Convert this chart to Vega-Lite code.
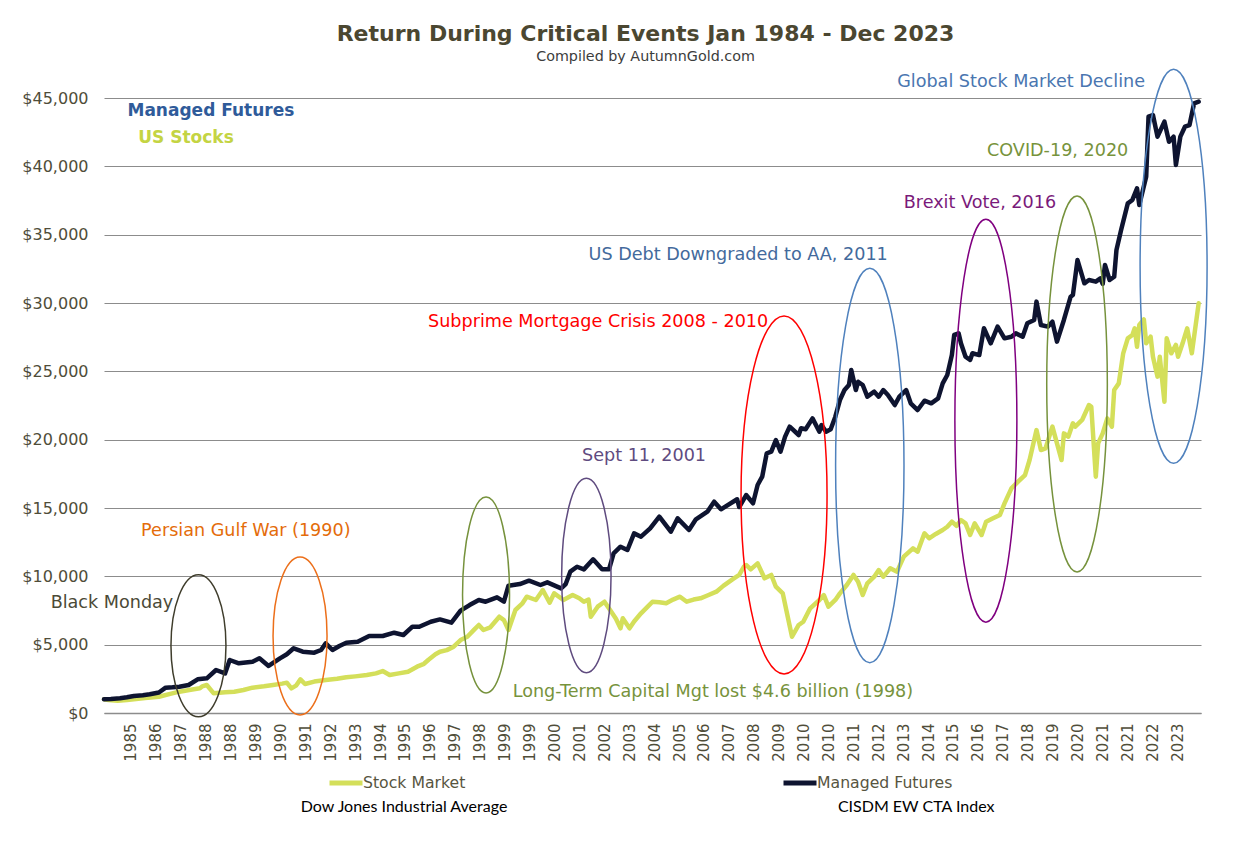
{
  "$schema": "https://vega.github.io/schema/vega-lite/v6.json",
  "width": 1097,
  "height": 615,
  "autosize": {"type": "none"},
  "padding": {"left": 104, "top": 98, "right": 59, "bottom": 138},
  "background": "white",
  "config": {"view": {"stroke": null}, "font": "DejaVu Sans", "axisX": {"labelOverlap": false}, "axisTemporal": {"labelOverlap": false}},
  "title": {
    "text": "Return During Critical Events Jan 1984 - Dec 2023",
    "subtitle": "Compiled by AutumnGold.com",
    "frame": "group",
    "anchor": "middle",
    "dx": -7,
    "offset": 1,
    "font": "DejaVu Sans",
    "fontSize": 22,
    "fontWeight": "bold",
    "color": "#4b4731",
    "subtitleFont": "DejaVu Sans",
    "subtitleFontSize": 14.3,
    "subtitleColor": "#3c3c3c",
    "subtitlePadding": 4
  },
  "datasets": {
    "series": [
      {"s":"Stock Market","d":"1984-01","v":1000},{"s":"Stock Market","d":"1984-03","v":950},{"s":"Stock Market","d":"1984-07","v":900},{"s":"Stock Market","d":"1984-11","v":950},
      {"s":"Stock Market","d":"1985-02","v":1000},{"s":"Stock Market","d":"1985-07","v":1100},{"s":"Stock Market","d":"1986-01","v":1190},{"s":"Stock Market","d":"1986-06","v":1400},
      {"s":"Stock Market","d":"1986-10","v":1560},{"s":"Stock Market","d":"1987-03","v":1700},{"s":"Stock Market","d":"1987-07","v":1805},{"s":"Stock Market","d":"1987-08","v":1950},
      {"s":"Stock Market","d":"1987-10","v":2050},{"s":"Stock Market","d":"1988-01","v":1440},{"s":"Stock Market","d":"1988-06","v":1520},{"s":"Stock Market","d":"1988-10","v":1560},
      {"s":"Stock Market","d":"1989-02","v":1680},{"s":"Stock Market","d":"1989-06","v":1853},{"s":"Stock Market","d":"1989-11","v":1950},{"s":"Stock Market","d":"1990-03","v":2049},
      {"s":"Stock Market","d":"1990-07","v":2150},{"s":"Stock Market","d":"1990-09","v":2220},{"s":"Stock Market","d":"1990-11","v":1805},{"s":"Stock Market","d":"1991-01","v":2000},
      {"s":"Stock Market","d":"1991-03","v":2463},{"s":"Stock Market","d":"1991-05","v":2122},{"s":"Stock Market","d":"1991-09","v":2300},{"s":"Stock Market","d":"1992-02","v":2415},
      {"s":"Stock Market","d":"1992-07","v":2500},{"s":"Stock Market","d":"1992-11","v":2610},{"s":"Stock Market","d":"1993-03","v":2680},{"s":"Stock Market","d":"1993-08","v":2780},
      {"s":"Stock Market","d":"1993-12","v":2900},{"s":"Stock Market","d":"1994-03","v":3073},{"s":"Stock Market","d":"1994-06","v":2780},{"s":"Stock Market","d":"1994-10","v":2900},
      {"s":"Stock Market","d":"1995-02","v":3024},{"s":"Stock Market","d":"1995-06","v":3390},{"s":"Stock Market","d":"1995-09","v":3600},{"s":"Stock Market","d":"1995-11","v":3900},
      {"s":"Stock Market","d":"1996-02","v":4300},{"s":"Stock Market","d":"1996-04","v":4485},{"s":"Stock Market","d":"1996-07","v":4600},{"s":"Stock Market","d":"1996-10","v":4850},
      {"s":"Stock Market","d":"1997-01","v":5340},{"s":"Stock Market","d":"1997-04","v":5580},{"s":"Stock Market","d":"1997-07","v":6100},{"s":"Stock Market","d":"1997-09","v":6440},
      {"s":"Stock Market","d":"1997-11","v":6073},{"s":"Stock Market","d":"1998-02","v":6270},{"s":"Stock Market","d":"1998-06","v":7046},{"s":"Stock Market","d":"1998-08","v":6800},
      {"s":"Stock Market","d":"1998-10","v":6073},{"s":"Stock Market","d":"1999-01","v":7536},{"s":"Stock Market","d":"1999-04","v":8000},{"s":"Stock Market","d":"1999-06","v":8510},
      {"s":"Stock Market","d":"1999-10","v":8268},{"s":"Stock Market","d":"2000-01","v":9000},{"s":"Stock Market","d":"2000-04","v":8070},{"s":"Stock Market","d":"2000-06","v":8755},
      {"s":"Stock Market","d":"2000-10","v":8268},{"s":"Stock Market","d":"2001-02","v":8634},{"s":"Stock Market","d":"2001-05","v":8400},{"s":"Stock Market","d":"2001-07","v":8144},
      {"s":"Stock Market","d":"2001-09","v":8300},{"s":"Stock Market","d":"2001-10","v":7046},{"s":"Stock Market","d":"2002-01","v":7780},{"s":"Stock Market","d":"2002-04","v":8144},
      {"s":"Stock Market","d":"2002-07","v":7412},{"s":"Stock Market","d":"2002-09","v":6900},{"s":"Stock Market","d":"2002-11","v":6197},{"s":"Stock Market","d":"2002-12","v":6930},
      {"s":"Stock Market","d":"2003-03","v":6197},{"s":"Stock Market","d":"2003-05","v":6700},{"s":"Stock Market","d":"2003-08","v":7295},{"s":"Stock Market","d":"2003-11","v":7800},
      {"s":"Stock Market","d":"2004-01","v":8144},{"s":"Stock Market","d":"2004-04","v":8100},{"s":"Stock Market","d":"2004-07","v":8026},{"s":"Stock Market","d":"2004-10","v":8300},
      {"s":"Stock Market","d":"2005-01","v":8510},{"s":"Stock Market","d":"2005-04","v":8144},{"s":"Stock Market","d":"2005-07","v":8300},{"s":"Stock Market","d":"2005-10","v":8390},
      {"s":"Stock Market","d":"2006-01","v":8600},{"s":"Stock Market","d":"2006-05","v":8876},{"s":"Stock Market","d":"2006-08","v":9300},{"s":"Stock Market","d":"2006-12","v":9780},
      {"s":"Stock Market","d":"2007-03","v":10100},{"s":"Stock Market","d":"2007-05","v":10700},{"s":"Stock Market","d":"2007-06","v":10830},{"s":"Stock Market","d":"2007-08","v":10510},
      {"s":"Stock Market","d":"2007-11","v":10950},{"s":"Stock Market","d":"2008-02","v":9855},{"s":"Stock Market","d":"2008-05","v":10100},{"s":"Stock Market","d":"2008-07","v":9240},
      {"s":"Stock Market","d":"2008-10","v":8755},{"s":"Stock Market","d":"2008-12","v":7170},{"s":"Stock Market","d":"2009-02","v":5580},{"s":"Stock Market","d":"2009-05","v":6440},
      {"s":"Stock Market","d":"2009-07","v":6680},{"s":"Stock Market","d":"2009-10","v":7660},{"s":"Stock Market","d":"2010-02","v":8270},{"s":"Stock Market","d":"2010-04","v":8630},
      {"s":"Stock Market","d":"2010-06","v":7780},{"s":"Stock Market","d":"2010-09","v":8270},{"s":"Stock Market","d":"2010-11","v":8755},{"s":"Stock Market","d":"2011-02","v":9365},
      {"s":"Stock Market","d":"2011-05","v":10100},{"s":"Stock Market","d":"2011-07","v":9610},{"s":"Stock Market","d":"2011-09","v":8630},{"s":"Stock Market","d":"2011-11","v":9490},
      {"s":"Stock Market","d":"2012-02","v":9975},{"s":"Stock Market","d":"2012-04","v":10460},{"s":"Stock Market","d":"2012-06","v":9975},{"s":"Stock Market","d":"2012-09","v":10590},
      {"s":"Stock Market","d":"2012-12","v":10340},{"s":"Stock Market","d":"2013-03","v":11440},{"s":"Stock Market","d":"2013-07","v":12050},{"s":"Stock Market","d":"2013-09","v":11800},
      {"s":"Stock Market","d":"2013-12","v":13150},{"s":"Stock Market","d":"2014-02","v":12780},{"s":"Stock Market","d":"2014-05","v":13100},{"s":"Stock Market","d":"2014-08","v":13390},
      {"s":"Stock Market","d":"2014-10","v":13630},{"s":"Stock Market","d":"2014-12","v":14000},{"s":"Stock Market","d":"2015-02","v":13700},{"s":"Stock Market","d":"2015-04","v":14120},
      {"s":"Stock Market","d":"2015-06","v":13880},{"s":"Stock Market","d":"2015-08","v":13025},{"s":"Stock Market","d":"2015-10","v":13880},{"s":"Stock Market","d":"2016-01","v":13025},
      {"s":"Stock Market","d":"2016-03","v":14000},{"s":"Stock Market","d":"2016-06","v":14245},{"s":"Stock Market","d":"2016-09","v":14490},{"s":"Stock Market","d":"2016-11","v":15340},
      {"s":"Stock Market","d":"2017-02","v":16440},{"s":"Stock Market","d":"2017-05","v":16925},{"s":"Stock Market","d":"2017-08","v":17410},{"s":"Stock Market","d":"2017-10","v":18510},
      {"s":"Stock Market","d":"2018-01","v":20700},{"s":"Stock Market","d":"2018-03","v":19240},{"s":"Stock Market","d":"2018-05","v":19365},{"s":"Stock Market","d":"2018-08","v":20950},
      {"s":"Stock Market","d":"2018-12","v":18510},{"s":"Stock Market","d":"2019-01","v":20460},{"s":"Stock Market","d":"2019-03","v":20220},{"s":"Stock Market","d":"2019-05","v":21200},
      {"s":"Stock Market","d":"2019-06","v":20950},{"s":"Stock Market","d":"2019-09","v":21440},{"s":"Stock Market","d":"2019-12","v":22535},{"s":"Stock Market","d":"2020-01","v":22400},
      {"s":"Stock Market","d":"2020-03","v":17290},{"s":"Stock Market","d":"2020-04","v":19730},{"s":"Stock Market","d":"2020-06","v":20460},{"s":"Stock Market","d":"2020-08","v":21560},
      {"s":"Stock Market","d":"2020-10","v":20950},{"s":"Stock Market","d":"2020-11","v":23630},{"s":"Stock Market","d":"2021-01","v":24120},{"s":"Stock Market","d":"2021-03","v":26320},
      {"s":"Stock Market","d":"2021-05","v":27415},{"s":"Stock Market","d":"2021-07","v":27660},{"s":"Stock Market","d":"2021-08","v":28150},{"s":"Stock Market","d":"2021-09","v":26800},
      {"s":"Stock Market","d":"2021-10","v":28390},{"s":"Stock Market","d":"2021-12","v":28800},{"s":"Stock Market","d":"2022-01","v":27050},{"s":"Stock Market","d":"2022-03","v":27535},
      {"s":"Stock Market","d":"2022-04","v":26070},{"s":"Stock Market","d":"2022-06","v":24610},{"s":"Stock Market","d":"2022-07","v":26070},{"s":"Stock Market","d":"2022-09","v":22780},
      {"s":"Stock Market","d":"2022-10","v":27415},{"s":"Stock Market","d":"2022-12","v":26320},{"s":"Stock Market","d":"2023-02","v":26930},{"s":"Stock Market","d":"2023-03","v":26070},
      {"s":"Stock Market","d":"2023-05","v":27050},{"s":"Stock Market","d":"2023-07","v":28150},{"s":"Stock Market","d":"2023-09","v":26320},{"s":"Stock Market","d":"2023-12","v":29980},

      {"s":"Managed Futures","d":"1984-01","v":1000},{"s":"Managed Futures","d":"1984-04","v":1020},{"s":"Managed Futures","d":"1984-08","v":1075},{"s":"Managed Futures","d":"1984-11","v":1150},
      {"s":"Managed Futures","d":"1985-02","v":1244},{"s":"Managed Futures","d":"1985-06","v":1300},{"s":"Managed Futures","d":"1985-09","v":1366},{"s":"Managed Futures","d":"1986-01","v":1500},
      {"s":"Managed Futures","d":"1986-04","v":1853},{"s":"Managed Futures","d":"1986-07","v":1880},{"s":"Managed Futures","d":"1986-10","v":1927},{"s":"Managed Futures","d":"1987-02","v":2049},
      {"s":"Managed Futures","d":"1987-06","v":2463},{"s":"Managed Futures","d":"1987-10","v":2536},{"s":"Managed Futures","d":"1988-02","v":3146},{"s":"Managed Futures","d":"1988-06","v":2900},
      {"s":"Managed Futures","d":"1988-08","v":3878},{"s":"Managed Futures","d":"1988-12","v":3634},{"s":"Managed Futures","d":"1989-03","v":3700},{"s":"Managed Futures","d":"1989-06","v":3756},
      {"s":"Managed Futures","d":"1989-09","v":4000},{"s":"Managed Futures","d":"1990-01","v":3440},{"s":"Managed Futures","d":"1990-06","v":4000},{"s":"Managed Futures","d":"1990-09","v":4300},
      {"s":"Managed Futures","d":"1990-12","v":4733},{"s":"Managed Futures","d":"1991-04","v":4490},{"s":"Managed Futures","d":"1991-09","v":4415},{"s":"Managed Futures","d":"1991-12","v":4610},
      {"s":"Managed Futures","d":"1992-02","v":5100},{"s":"Managed Futures","d":"1992-05","v":4610},{"s":"Managed Futures","d":"1992-08","v":4900},{"s":"Managed Futures","d":"1992-11","v":5144},
      {"s":"Managed Futures","d":"1993-04","v":5217},{"s":"Managed Futures","d":"1993-09","v":5634},{"s":"Managed Futures","d":"1994-03","v":5634},{"s":"Managed Futures","d":"1994-08","v":5876},
      {"s":"Managed Futures","d":"1994-12","v":5707},{"s":"Managed Futures","d":"1995-04","v":6315},{"s":"Managed Futures","d":"1995-07","v":6315},{"s":"Managed Futures","d":"1995-12","v":6680},
      {"s":"Managed Futures","d":"1996-04","v":6850},{"s":"Managed Futures","d":"1996-09","v":6607},{"s":"Managed Futures","d":"1997-01","v":7485},{"s":"Managed Futures","d":"1997-05","v":7900},
      {"s":"Managed Futures","d":"1997-09","v":8268},{"s":"Managed Futures","d":"1997-12","v":8144},{"s":"Managed Futures","d":"1998-05","v":8466},{"s":"Managed Futures","d":"1998-08","v":8144},
      {"s":"Managed Futures","d":"1998-10","v":9315},{"s":"Managed Futures","d":"1999-03","v":9438},{"s":"Managed Futures","d":"1999-07","v":9680},{"s":"Managed Futures","d":"1999-12","v":9365},
      {"s":"Managed Futures","d":"2000-03","v":9560},{"s":"Managed Futures","d":"2000-09","v":9120},{"s":"Managed Futures","d":"2000-11","v":9438},{"s":"Managed Futures","d":"2001-01","v":10340},
      {"s":"Managed Futures","d":"2001-04","v":10700},{"s":"Managed Futures","d":"2001-07","v":10510},{"s":"Managed Futures","d":"2001-11","v":11245},{"s":"Managed Futures","d":"2002-03","v":10510},
      {"s":"Managed Futures","d":"2002-06","v":10510},{"s":"Managed Futures","d":"2002-08","v":11685},{"s":"Managed Futures","d":"2002-11","v":12170},{"s":"Managed Futures","d":"2003-02","v":11925},
      {"s":"Managed Futures","d":"2003-05","v":13145},{"s":"Managed Futures","d":"2003-08","v":12900},{"s":"Managed Futures","d":"2003-12","v":13510},{"s":"Managed Futures","d":"2004-04","v":14365},
      {"s":"Managed Futures","d":"2004-09","v":13265},{"s":"Managed Futures","d":"2004-12","v":14245},{"s":"Managed Futures","d":"2005-05","v":13390},{"s":"Managed Futures","d":"2005-08","v":14170},
      {"s":"Managed Futures","d":"2006-01","v":14730},{"s":"Managed Futures","d":"2006-04","v":15460},{"s":"Managed Futures","d":"2006-07","v":14905},{"s":"Managed Futures","d":"2007-02","v":15640},
      {"s":"Managed Futures","d":"2007-03","v":15070},{"s":"Managed Futures","d":"2007-06","v":15950},{"s":"Managed Futures","d":"2007-09","v":15345},{"s":"Managed Futures","d":"2007-11","v":16680},
      {"s":"Managed Futures","d":"2008-01","v":17290},{"s":"Managed Futures","d":"2008-03","v":19000},{"s":"Managed Futures","d":"2008-05","v":19120},{"s":"Managed Futures","d":"2008-07","v":19975},
      {"s":"Managed Futures","d":"2008-09","v":19120},{"s":"Managed Futures","d":"2008-11","v":20220},{"s":"Managed Futures","d":"2009-01","v":20950},{"s":"Managed Futures","d":"2009-05","v":20340},
      {"s":"Managed Futures","d":"2009-06","v":20830},{"s":"Managed Futures","d":"2009-08","v":20760},{"s":"Managed Futures","d":"2009-11","v":21560},{"s":"Managed Futures","d":"2010-02","v":20585},
      {"s":"Managed Futures","d":"2010-03","v":21070},{"s":"Managed Futures","d":"2010-05","v":20585},{"s":"Managed Futures","d":"2010-07","v":20760},{"s":"Managed Futures","d":"2010-09","v":21680},
      {"s":"Managed Futures","d":"2010-11","v":22900},{"s":"Managed Futures","d":"2011-01","v":23630},{"s":"Managed Futures","d":"2011-03","v":24000},{"s":"Managed Futures","d":"2011-04","v":25100},
      {"s":"Managed Futures","d":"2011-06","v":23630},{"s":"Managed Futures","d":"2011-07","v":24240},{"s":"Managed Futures","d":"2011-09","v":24000},{"s":"Managed Futures","d":"2011-11","v":23145},
      {"s":"Managed Futures","d":"2012-02","v":23510},{"s":"Managed Futures","d":"2012-04","v":23145},{"s":"Managed Futures","d":"2012-06","v":23630},{"s":"Managed Futures","d":"2012-08","v":23270},
      {"s":"Managed Futures","d":"2012-11","v":22535},{"s":"Managed Futures","d":"2013-01","v":23145},{"s":"Managed Futures","d":"2013-04","v":23630},{"s":"Managed Futures","d":"2013-06","v":22660},
      {"s":"Managed Futures","d":"2013-09","v":22170},{"s":"Managed Futures","d":"2013-12","v":22850},{"s":"Managed Futures","d":"2014-03","v":22660},{"s":"Managed Futures","d":"2014-06","v":23025},
      {"s":"Managed Futures","d":"2014-08","v":24120},{"s":"Managed Futures","d":"2014-10","v":24730},{"s":"Managed Futures","d":"2014-12","v":26200},{"s":"Managed Futures","d":"2015-01","v":27660},
      {"s":"Managed Futures","d":"2015-03","v":27780},{"s":"Managed Futures","d":"2015-04","v":27050},{"s":"Managed Futures","d":"2015-06","v":26070},{"s":"Managed Futures","d":"2015-08","v":25830},
      {"s":"Managed Futures","d":"2015-09","v":26320},{"s":"Managed Futures","d":"2015-12","v":26190},{"s":"Managed Futures","d":"2016-02","v":28150},{"s":"Managed Futures","d":"2016-05","v":27050},
      {"s":"Managed Futures","d":"2016-08","v":28270},{"s":"Managed Futures","d":"2016-11","v":27415},{"s":"Managed Futures","d":"2017-02","v":27535},{"s":"Managed Futures","d":"2017-04","v":27780},
      {"s":"Managed Futures","d":"2017-07","v":27535},{"s":"Managed Futures","d":"2017-09","v":28515},{"s":"Managed Futures","d":"2017-12","v":28760},{"s":"Managed Futures","d":"2018-01","v":30100},
      {"s":"Managed Futures","d":"2018-03","v":28390},{"s":"Managed Futures","d":"2018-06","v":28270},{"s":"Managed Futures","d":"2018-08","v":28630},{"s":"Managed Futures","d":"2018-10","v":27170},
      {"s":"Managed Futures","d":"2019-01","v":28760},{"s":"Managed Futures","d":"2019-04","v":30460},{"s":"Managed Futures","d":"2019-05","v":30585},{"s":"Managed Futures","d":"2019-07","v":33145},
      {"s":"Managed Futures","d":"2019-10","v":31440},{"s":"Managed Futures","d":"2019-12","v":31680},{"s":"Managed Futures","d":"2020-03","v":31560},{"s":"Managed Futures","d":"2020-05","v":31800},
      {"s":"Managed Futures","d":"2020-06","v":31390},{"s":"Managed Futures","d":"2020-07","v":32780},{"s":"Managed Futures","d":"2020-09","v":31680},{"s":"Managed Futures","d":"2020-11","v":31920},
      {"s":"Managed Futures","d":"2020-12","v":33875},{"s":"Managed Futures","d":"2021-02","v":35340},{"s":"Managed Futures","d":"2021-05","v":37290},{"s":"Managed Futures","d":"2021-07","v":37540},
      {"s":"Managed Futures","d":"2021-09","v":38390},{"s":"Managed Futures","d":"2021-10","v":37170},{"s":"Managed Futures","d":"2022-01","v":39240},{"s":"Managed Futures","d":"2022-02","v":43630},
      {"s":"Managed Futures","d":"2022-04","v":43755},{"s":"Managed Futures","d":"2022-06","v":42170},{"s":"Managed Futures","d":"2022-09","v":43270},{"s":"Managed Futures","d":"2022-11","v":41800},
      {"s":"Managed Futures","d":"2023-01","v":42170},{"s":"Managed Futures","d":"2023-02","v":40100},{"s":"Managed Futures","d":"2023-04","v":42170},{"s":"Managed Futures","d":"2023-06","v":42900},
      {"s":"Managed Futures","d":"2023-08","v":43020},{"s":"Managed Futures","d":"2023-10","v":44610},{"s":"Managed Futures","d":"2023-12","v":44730}
    ],
    "ellipses": [
      {"event":"Black Monday","d":"1987-06-12","v":4920},
      {"event":"Persian Gulf War","d":"1991-02-24","v":5634},
      {"event":"LTCM","d":"1997-12-06","v":8634},
      {"event":"Sept 11","d":"2001-08-03","v":10061},
      {"event":"Subprime","d":"2008-10-18","v":15951},
      {"event":"US Debt","d":"2011-12-04","v":18109},
      {"event":"Brexit","d":"2016-02-27","v":21388},
      {"event":"COVID-19","d":"2019-06-25","v":24073},
      {"event":"Global Decline","d":"2023-01-01","v":32692}
    ],
    "labels": [
      {"label":"Global Stock Market Decline","d":"2017-06-10","v":46170},
      {"label":"COVID-19, 2020","d":"2018-10-10","v":41120},
      {"label":"Brexit Vote, 2016","d":"2015-12-10","v":37317},
      {"label":"US Debt Downgraded to AA, 2011","d":"2007-02-15","v":33512},
      {"label":"Subprime Mortgage Crisis 2008 - 2010","d":"2002-01-07","v":28609},
      {"label":"Sept 11, 2001","d":"2003-09-10","v":18804},
      {"label":"Persian Gulf War (1990)","d":"1989-03-04","v":13317},
      {"label":"Black Monday","d":"1984-04-16","v":8049},
      {"label":"Long-Term Capital Mgt lost $4.6 billion (1998)","d":"2006-03-16","v":1537}
    ]
  },
  "encoding": {
    "x": {
      "field": "d", "type": "temporal",
      "scale": {"type": "utc", "domain": [{"year":1984,"month":1,"date":1,"utc":true},{"year":2024,"month":1,"date":1,"utc":true}]},
      "axis": {
        "title": null, "grid": false, "ticks": false,
        "domainColor": "#8c8c8c", "domainWidth": 1.3,
        "labelAngle": 270, "labelPadding": 10, "labelFont": "DejaVu Sans", "labelFontSize": 15, "labelColor": "#4f4d39",
        "labelOverlap": false, "labelBound": false, "labelFlush": false, "labelSeparation": 0,
        "values": [
          {"year":1984,"month":12,"date":25,"utc":true},{"year":1985,"month":11,"date":21,"utc":true},{"year":1986,"month":10,"date":19,"utc":true},
          {"year":1987,"month":9,"date":16,"utc":true},{"year":1988,"month":8,"date":13,"utc":true},{"year":1989,"month":7,"date":10,"utc":true},
          {"year":1990,"month":6,"date":7,"utc":true},{"year":1991,"month":5,"date":4,"utc":true},{"year":1992,"month":4,"date":1,"utc":true},
          {"year":1993,"month":2,"date":27,"utc":true},{"year":1994,"month":1,"date":25,"utc":true},{"year":1994,"month":12,"date":22,"utc":true},
          {"year":1995,"month":11,"date":19,"utc":true},{"year":1996,"month":10,"date":16,"utc":true},{"year":1997,"month":9,"date":13,"utc":true},
          {"year":1998,"month":8,"date":10,"utc":true},{"year":1999,"month":7,"date":7,"utc":true},{"year":2000,"month":6,"date":4,"utc":true},
          {"year":2001,"month":5,"date":1,"utc":true},{"year":2002,"month":3,"date":28,"utc":true},{"year":2003,"month":2,"date":25,"utc":true},
          {"year":2004,"month":1,"date":22,"utc":true},{"year":2004,"month":12,"date":19,"utc":true},{"year":2005,"month":11,"date":16,"utc":true},
          {"year":2006,"month":10,"date":13,"utc":true},{"year":2007,"month":9,"date":10,"utc":true},{"year":2008,"month":8,"date":7,"utc":true},
          {"year":2009,"month":7,"date":4,"utc":true},{"year":2010,"month":6,"date":1,"utc":true},{"year":2011,"month":4,"date":28,"utc":true},
          {"year":2012,"month":3,"date":25,"utc":true},{"year":2013,"month":2,"date":21,"utc":true},{"year":2014,"month":1,"date":19,"utc":true},
          {"year":2014,"month":12,"date":16,"utc":true},{"year":2015,"month":11,"date":13,"utc":true},{"year":2016,"month":10,"date":10,"utc":true},
          {"year":2017,"month":9,"date":7,"utc":true},{"year":2018,"month":8,"date":4,"utc":true},{"year":2019,"month":7,"date":1,"utc":true},
          {"year":2020,"month":5,"date":28,"utc":true},{"year":2021,"month":4,"date":25,"utc":true},{"year":2022,"month":3,"date":22,"utc":true},
          {"year":2023,"month":2,"date":19,"utc":true}
        ],
        "labelExpr": "['1985','1986','1987','1988','1988','1989','1990','1991','1992','1993','1994','1995','1996','1997','1998','1999','1999','2000','2001','2002','2003','2004','2005','2006','2007','2008','2009','2010','2010','2011','2012','2013','2014','2015','2016','2017','2018','2019','2020','2021','2021','2022','2023'][round(datum.index*42)]"
      }
    },
    "y": {
      "field": "v", "type": "quantitative",
      "scale": {"domain": [0, 45000], "nice": false, "zero": true},
      "axis": {
        "title": null, "domain": false, "ticks": false, "grid": true,
        "gridColor": "#8c8c8c", "gridWidth": 1.2,
        "values": [0,5000,10000,15000,20000,25000,30000,35000,40000,45000],
        "format": "$,.0f", "labelFont": "DejaVu Sans", "labelFontSize": 16, "labelColor": "#4f4d39", "labelPadding": 16
      }
    }
  },
  "layer": [
    {
      "data": {"name": "series"},
      "mark": {"type": "line", "strokeWidth": 4.5, "strokeCap": "round", "strokeJoin": "round"},
      "encoding": {
        "color": {
          "field": "s", "type": "nominal",
          "scale": {"domain": ["Stock Market", "Managed Futures"], "range": ["#d4df5a", "#0e1430"]},
          "legend": {
            "orient": "none", "legendX": 223, "legendY": 666, "direction": "horizontal", "columns": 2, "columnPadding": 307,
            "title": null, "symbolType": "stroke", "symbolSize": 1089, "symbolStrokeWidth": 5, "padding": 0,
            "labelFont": "DejaVu Sans", "labelFontSize": 15.7, "labelColor": "#57553f", "labelOffset": -2
          }
        }
      }
    },
    {
      "data": {"name": "ellipses"},
      "mark": {"type": "point", "filled": false, "size": 4, "strokeWidth": 1.5, "opacity": 1, "clip": false},
      "encoding": {
        "shape": {
          "field": "event", "type": "nominal", "legend": null,
          "scale": {
            "domain": ["Black Monday","Persian Gulf War","LTCM","Sept 11","Subprime","US Debt","Brexit","COVID-19","Global Decline"],
            "range": [
              "M -27.5 0 A 27.5 71 0 1 0 27.5 0 A 27.5 71 0 1 0 -27.5 0 Z",
              "M -27 0 A 27 79 0 1 0 27 0 A 27 79 0 1 0 -27 0 Z",
              "M -23.5 0 A 23.5 98 0 1 0 23.5 0 A 23.5 98 0 1 0 -23.5 0 Z",
              "M -24.7 0 A 24.7 97.2 0 1 0 24.7 0 A 24.7 97.2 0 1 0 -24.7 0 Z",
              "M -43 0 A 43 179 0 1 0 43 0 A 43 179 0 1 0 -43 0 Z",
              "M -34.2 0 A 34.2 197.2 0 1 0 34.2 0 A 34.2 197.2 0 1 0 -34.2 0 Z",
              "M -31 0 A 31 201.5 0 1 0 31 0 A 31 201.5 0 1 0 -31 0 Z",
              "M -30.3 0 A 30.3 188 0 1 0 30.3 0 A 30.3 188 0 1 0 -30.3 0 Z",
              "M -33.5 0 A 33.5 197 0 1 0 33.5 0 A 33.5 197 0 1 0 -33.5 0 Z"
            ]
          }
        },
        "stroke": {
          "field": "event", "type": "nominal", "legend": null,
          "scale": {
            "domain": ["Black Monday","Persian Gulf War","LTCM","Sept 11","Subprime","US Debt","Brexit","COVID-19","Global Decline"],
            "range": ["#3f3d2c","#ec6f1a","#76923c","#5f4b7f","#ff0000","#4f81bd","#800080","#76923c","#4f81bd"]
          }
        }
      }
    },
    {
      "data": {"name": "labels"},
      "mark": {"type": "text", "font": "DejaVu Sans", "fontSize": 17.6, "align": "center", "baseline": "middle"},
      "encoding": {
        "text": {"field": "label"},
        "fill": {
          "field": "label", "type": "nominal", "legend": null,
          "scale": {
            "domain": ["Global Stock Market Decline","COVID-19, 2020","Brexit Vote, 2016","US Debt Downgraded to AA, 2011","Subprime Mortgage Crisis 2008 - 2010","Sept 11, 2001","Persian Gulf War (1990)","Black Monday","Long-Term Capital Mgt lost $4.6 billion (1998)"],
            "range": ["#4a76b0","#77933c","#7a1a7a","#436a9c","#ff0000","#5f4b80","#e46c0a","#4b4a36","#77933c"]
          }
        }
      }
    },
    {
      "data": {"values": [{"label": "Managed Futures", "d": "1987-11-25", "v": 44048}]},
      "mark": {"type": "text", "font": "DejaVu Sans", "fontSize": 17, "fontWeight": "bold", "align": "center", "baseline": "middle", "color": "#2f5b9a"},
      "encoding": {"text": {"field": "label"}}
    },
    {
      "data": {"values": [{"label": "US Stocks", "d": "1986-12-28", "v": 42072}]},
      "mark": {"type": "text", "font": "DejaVu Sans", "fontSize": 17, "fontWeight": "bold", "align": "center", "baseline": "middle", "color": "#c4d443"},
      "encoding": {"text": {"field": "label"}}
    },
    {
      "data": {"values": [
        {"label": "Dow Jones Industrial Average", "d": "1994-12-10", "v": -6878},
        {"label": "CISDM EW CTA Index", "d": "2013-08-13", "v": -6878}
      ]},
      "mark": {"type": "text", "font": "Lato", "fontSize": 16, "align": "center", "baseline": "middle", "color": "#000000"},
      "encoding": {"text": {"field": "label"}}
    }
  ]
}
